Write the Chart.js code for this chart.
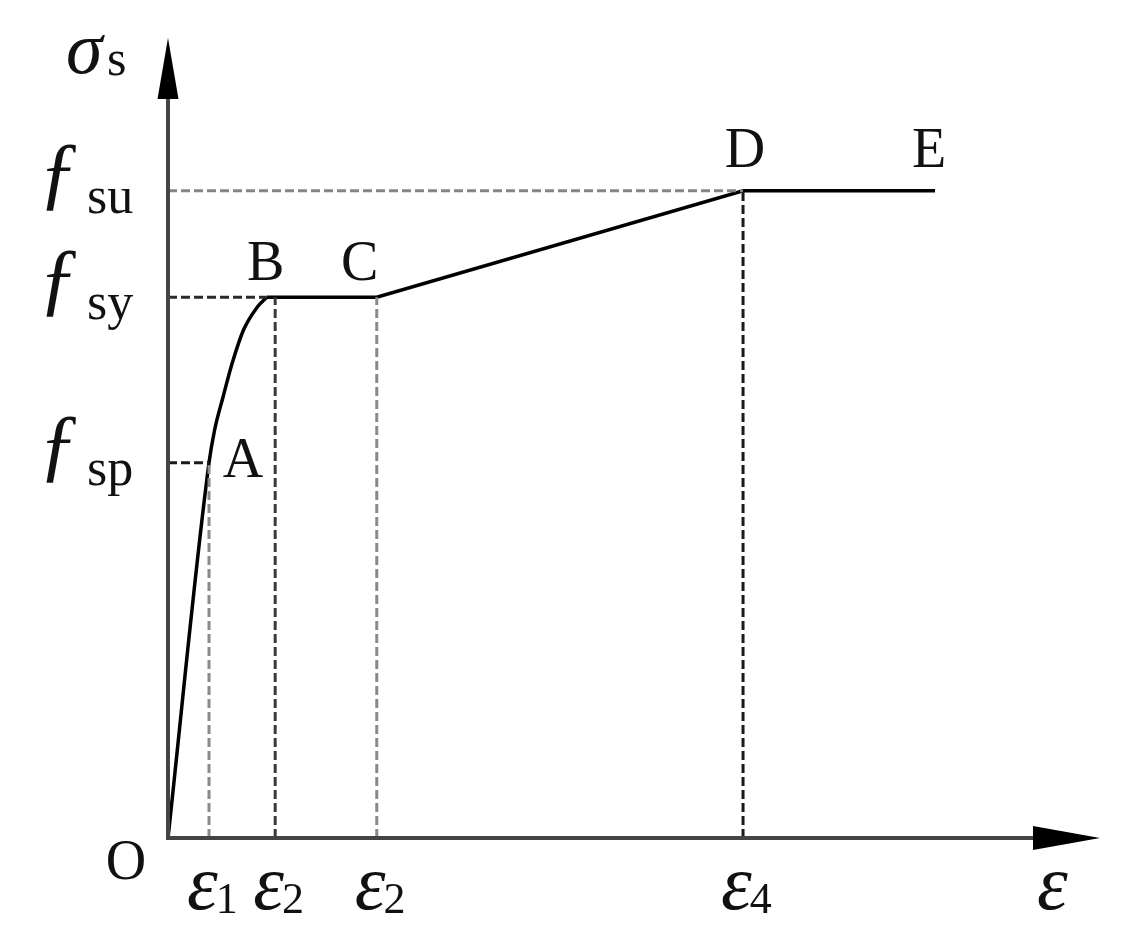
<!DOCTYPE html>
<html>
<head>
<meta charset="utf-8">
<script src="https://cdn.jsdelivr.net/npm/chart.js@4.4.1/dist/chart.umd.min.js"></script>
<style>
  html, body { margin: 0; padding: 0; background: #fff; }
  canvas { display: block; }
</style>
</head>
<body>
<canvas id="stressStrain" width="1141" height="948"></canvas>
<script>
// strain (x) and stress (y) of the curve, in percent of the axis length
const curveX = [0, 4.4, 5.0, 5.9, 6.9, 8.1, 9.6, 10.6];
const curveY = [0, 46.9, 51.0, 55.1, 59.4, 63.5, 66.4, 67.6];
const plateauX = [10.6, 22.4, 61.7, 82.3];
const plateauY = [67.6, 67.6, 80.9, 80.9];

// named points on the curve
const pointNames = ["A", "B", "C", "D", "E"];
const pointX = [4.4, 10.6, 22.4, 61.7, 82.3];
const pointY = [46.9, 67.6, 67.6, 80.9, 80.9];

// stress levels on the vertical axis
const stressSubs = ["sp", "sy", "su"];
const stressLevels = [46.9, 67.6, 80.9];
const stressReach = [4.4, 10.6, 61.7];

// strain marks on the horizontal axis
const strainSubs = ["1", "2", "2", "4"];
const strainTicks = [4.4, 11.5, 22.4, 61.7];
const strainTops = [46.9, 67.6, 67.6, 80.9];

const hColors = ["#1a1a1a", "#2a2a2a", "#858585"];
const vColors = ["#8a8a8a", "#3a3a3a", "#8a8a8a", "#1a1a1a"];

const datasets = [];

stressLevels.forEach((lvl, i) => {
    datasets.push({
        data: [{ x: 0, y: lvl }, { x: stressReach[i], y: lvl }],
        borderColor: hColors[i],
        borderWidth: 3,
        borderDash: [9, 4]
    });
});

strainTicks.forEach((t, i) => {
    datasets.push({
        data: [{ x: t, y: 0 }, { x: t, y: strainTops[i] }],
        borderColor: vColors[i],
        borderWidth: 3,
        borderDash: [9, 4]
    });
});

datasets.push({
    data: curveX.map((x, i) => ({ x: x, y: curveY[i] })),
    borderColor: "#000",
    borderWidth: 3.5,
    cubicInterpolationMode: "monotone"
});

datasets.push({
    data: plateauX.map((x, i) => ({ x: x, y: plateauY[i] })),
    borderColor: "#000",
    borderWidth: 3.5,
    tension: 0
});

const SERIF = "'Liberation Serif', 'Times New Roman', serif";

// axes with arrows plus all the text labels
const diagramPlugin = {
    id: "diagram",
    afterDatasetsDraw(chart) {
        const { ctx, scales } = chart;
        const xs = scales.x, ys = scales.y;
        const x0 = xs.getPixelForValue(0), y0 = ys.getPixelForValue(0);
        const xEnd = xs.getPixelForValue(100), yEnd = ys.getPixelForValue(100);

        ctx.save();
        ctx.strokeStyle = "#444";
        ctx.lineWidth = 4;
        ctx.beginPath();
        ctx.moveTo(x0, y0);
        ctx.lineTo(xEnd - 60, y0);
        ctx.moveTo(x0, y0 + 2);
        ctx.lineTo(x0, yEnd + 60);
        ctx.stroke();

        ctx.fillStyle = "#000";
        ctx.beginPath();
        ctx.moveTo(xEnd, y0);
        ctx.lineTo(xEnd - 67, y0 - 12);
        ctx.lineTo(xEnd - 67, y0 + 12);
        ctx.closePath();
        ctx.fill();
        ctx.beginPath();
        ctx.moveTo(x0, yEnd);
        ctx.lineTo(x0 - 10.5, yEnd + 61);
        ctx.lineTo(x0 + 10.5, yEnd + 61);
        ctx.closePath();
        ctx.fill();

        ctx.fillStyle = "#111";
        ctx.textBaseline = "alphabetic";

        // point letters
        const letterOffsets = {
            A: [34, 14], B: [-1, -17], C: [-17, -17], D: [2, -24], E: [-6, -24]
        };
        ctx.font = "56px " + SERIF;
        ctx.textAlign = "center";
        pointNames.forEach((n, i) => {
            const off = letterOffsets[n];
            ctx.fillText(n, xs.getPixelForValue(pointX[i]) + off[0], ys.getPixelForValue(pointY[i]) + off[1]);
        });
        ctx.fillText("O", x0 - 42, y0 + 41);

        // stress level labels  f_sp, f_sy, f_su
        stressLevels.forEach((lvl, i) => {
            const py = ys.getPixelForValue(lvl);
            ctx.textAlign = "left";
            ctx.font = "italic 82px " + SERIF;
            ctx.fillText("\u0192", 38, py + 8);
            ctx.font = "52px " + SERIF;
            ctx.fillText(stressSubs[i], 87, py + 22);
        });

        // sigma_s axis title
        ctx.textAlign = "left";
        ctx.font = "italic 74px " + SERIF;
        ctx.fillText("\u03C3", 66, yEnd + 35);
        ctx.font = "50px " + SERIF;
        ctx.fillText("s", 107, yEnd + 37);

        // strain labels  eps_1, eps_2, ...
        strainTicks.forEach((t, i) => {
            const px = xs.getPixelForValue(t);
            ctx.textAlign = "left";
            ctx.font = "italic 78px " + SERIF;
            ctx.fillText("\u03B5", px - 22, y0 + 71);
            const w = ctx.measureText("\u03B5").width;
            ctx.font = "44px " + SERIF;
            ctx.fillText(strainSubs[i], px - 22 + w - 2, y0 + 75);
        });
        ctx.font = "italic 78px " + SERIF;
        ctx.fillText("\u03B5", xEnd - 63, y0 + 71);

        ctx.restore();
    }
};

new Chart(document.getElementById("stressStrain"), {
    type: "scatter",
    data: { datasets: datasets },
    options: {
        responsive: false,
        animation: false,
        devicePixelRatio: 1,
        layout: { padding: { left: 168, right: 41, top: 38, bottom: 110 } },
        elements: { point: { radius: 0, hoverRadius: 0 } },
        datasets: { scatter: { showLine: true, clip: false } },
        plugins: { legend: { display: false }, tooltip: { enabled: false } },
        scales: {
            x: { type: "linear", min: 0, max: 100, display: false },
            y: { type: "linear", min: 0, max: 100, display: false }
        }
    },
    plugins: [diagramPlugin]
});
</script>
</body>
</html>
